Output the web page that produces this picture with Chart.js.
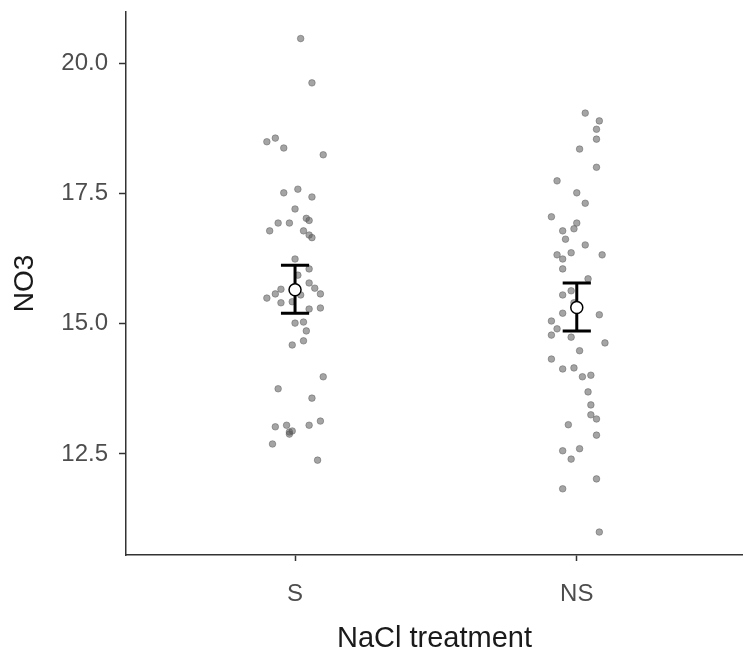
<!DOCTYPE html>
<html>
<head>
<meta charset="utf-8">
<script src="https://cdn.jsdelivr.net/npm/chart.js@4"></script>
<style>
  html, body { margin: 0; padding: 0; background: #fff; }
  #wrap { width: 743px; height: 656px; }
</style>
</head>
<body>
<div id="wrap"><canvas id="myChart" width="743" height="656"></canvas></div>
<script>
var categories = ['S', 'NS'];
var yTicks = [12.5, 15.0, 17.5, 20.0];

// NO3 readings per treatment, with the horizontal jitter (in category units)
var sValues = [20.47, 19.62, 18.49, 18.56, 18.37, 18.24, 17.51, 17.58, 17.43, 17.20,
  17.02, 16.98, 16.93, 16.93, 16.78, 16.78, 16.70, 16.65, 16.24, 16.05,
  15.93, 15.78, 15.66, 15.68, 15.57, 15.57, 15.49, 15.40, 15.42, 15.55,
  15.28, 15.30, 15.01, 15.03, 14.86, 14.67, 14.59, 13.98, 13.75, 13.57,
  13.13, 13.05, 13.02, 13.05, 12.94, 12.88, 12.92, 12.69, 12.38];
var sJitter = [0.02, 0.06, -0.10, -0.07, -0.04, 0.10, -0.04, 0.01, 0.06, 0.00,
  0.04, 0.05, -0.06, -0.02, -0.09, 0.03, 0.05, 0.06, 0.00, 0.05,
  0.01, 0.05, -0.05, 0.07, -0.07, 0.09, -0.10, -0.05, -0.01, 0.02,
  0.05, 0.09, 0.00, 0.03, 0.04, 0.03, -0.01, 0.10, -0.06, 0.06,
  0.09, 0.05, -0.07, -0.03, -0.01, -0.02, -0.02, -0.08, 0.08];

var nsValues = [19.04, 18.89, 18.73, 18.54, 18.35, 18.00, 17.74, 17.51, 17.31, 17.05,
  16.93, 16.82, 16.78, 16.62, 16.51, 16.36, 16.32, 16.24, 16.32, 16.05,
  15.86, 15.63, 15.55, 15.40, 15.20, 15.17, 15.05, 14.90, 14.78, 14.74,
  14.63, 14.48, 14.32, 14.13, 14.15, 13.98, 14.01, 13.69, 13.44, 13.25,
  13.17, 13.06, 12.86, 12.56, 12.60, 12.40, 12.02, 11.83, 11.00];
var nsJitter = [0.03, 0.08, 0.07, 0.07, 0.01, 0.07, -0.07, 0.00, 0.03, -0.09,
  0.00, -0.01, -0.05, -0.04, 0.03, -0.02, -0.07, -0.05, 0.09, -0.05,
  0.04, -0.02, -0.05, -0.01, -0.05, 0.08, -0.09, -0.07, -0.09, -0.02,
  0.10, 0.01, -0.09, -0.05, -0.01, 0.02, 0.05, 0.04, 0.05, 0.05,
  0.07, -0.03, 0.07, -0.05, 0.01, -0.02, 0.07, -0.05, 0.08];

// group mean with lower / upper error limits
var means = [15.65, 15.31];
var lower = [15.20, 14.86];
var upper = [16.12, 15.78];

function toPoints(values, jitter, pos) {
  return values.map(function (v, i) { return { x: pos + jitter[i], y: v }; });
}

var errorBars = {
  id: 'errorBars',
  afterDatasetsDraw: function (chart) {
    var ctx = chart.ctx;
    var xs = chart.scales.x, ys = chart.scales.y;
    ctx.save();
    for (var i = 0; i < means.length; i++) {
      var cx = xs.getPixelForValue(i + 1);
      var half = xs.getPixelForValue(i + 1.05) - cx;
      var yl = ys.getPixelForValue(lower[i]);
      var yu = ys.getPixelForValue(upper[i]);
      var ym = ys.getPixelForValue(means[i]);
      ctx.strokeStyle = '#000';
      ctx.lineWidth = 3;
      ctx.beginPath();
      ctx.moveTo(cx, yl); ctx.lineTo(cx, yu);
      ctx.moveTo(cx - half, yl); ctx.lineTo(cx + half, yl);
      ctx.moveTo(cx - half, yu); ctx.lineTo(cx + half, yu);
      ctx.stroke();
      ctx.beginPath();
      ctx.arc(cx, ym, 6, 0, Math.PI * 2);
      ctx.fillStyle = '#fff';
      ctx.fill();
      ctx.lineWidth = 1.5;
      ctx.stroke();
    }
    ctx.restore();
  }
};

var pointStyle = {
  backgroundColor: 'rgba(90,90,90,0.55)',
  borderColor: 'rgba(90,90,90,0.6)',
  borderWidth: 0.8,
  pointRadius: 3.3
};

var fontFamily = 'Liberation Sans, Arial, sans-serif';

var ctx = document.getElementById('myChart').getContext('2d');
var chart = new Chart(ctx, {
  type: 'scatter',
  data: {
    datasets: [
      Object.assign({ label: 'S', data: toPoints(sValues, sJitter, 1) }, pointStyle),
      Object.assign({ label: 'NS', data: toPoints(nsValues, nsJitter, 2) }, pointStyle)
    ]
  },
  options: {
    responsive: false,
    animation: false,
    events: [],
    layout: { autoPadding: false, padding: { top: 12, left: 0, right: 0, bottom: 0 } },
    plugins: { legend: { display: false }, tooltip: { enabled: false } },
    scales: {
      x: {
        type: 'linear',
        min: 0.4,
        max: 2.59,
        afterBuildTicks: function (scale) {
          scale.ticks = categories.map(function (c, i) { return { value: i + 1 }; });
        },
        afterFit: function (scale) {
          scale.height = 101;
          scale.paddingLeft = 0;
          scale.paddingRight = 0;
        },
        grid: { display: true, drawOnChartArea: false, drawTicks: true, tickLength: 6, tickWidth: 1.5, tickColor: '#333' },
        border: { display: true, color: '#333', width: 1.5 },
        ticks: {
          autoSkip: false,
          maxRotation: 0,
          padding: 19,
          color: '#4d4d4d',
          font: { family: fontFamily, size: 24 },
          callback: function (v) { return categories[Math.round(v) - 1] || ''; }
        },
        title: {
          display: true,
          text: 'NaCl treatment',
          color: '#1a1a1a',
          padding: { top: 3, bottom: 0 },
          font: { family: fontFamily, size: 29 }
        }
      },
      y: {
        min: 10.56,
        max: 20.98,
        afterBuildTicks: function (scale) {
          scale.ticks = yTicks.map(function (v) { return { value: v }; });
        },
        afterFit: function (scale) {
          scale.width = 126;
          scale.paddingTop = 0;
          scale.paddingBottom = 0;
        },
        grid: { display: true, drawOnChartArea: false, drawTicks: true, tickLength: 7, tickWidth: 1.5, tickColor: '#333' },
        border: { display: true, color: '#333', width: 1.5 },
        ticks: {
          padding: 11,
          color: '#4d4d4d',
          font: { family: fontFamily, size: 24 },
          callback: function (v) { return v.toFixed(1); }
        },
        title: {
          display: true,
          text: 'NO3',
          color: '#1a1a1a',
          padding: { top: 8, bottom: 0 },
          font: { family: fontFamily, size: 28 }
        }
      }
    }
  },
  plugins: [errorBars]
});
</script>
</body>
</html>
